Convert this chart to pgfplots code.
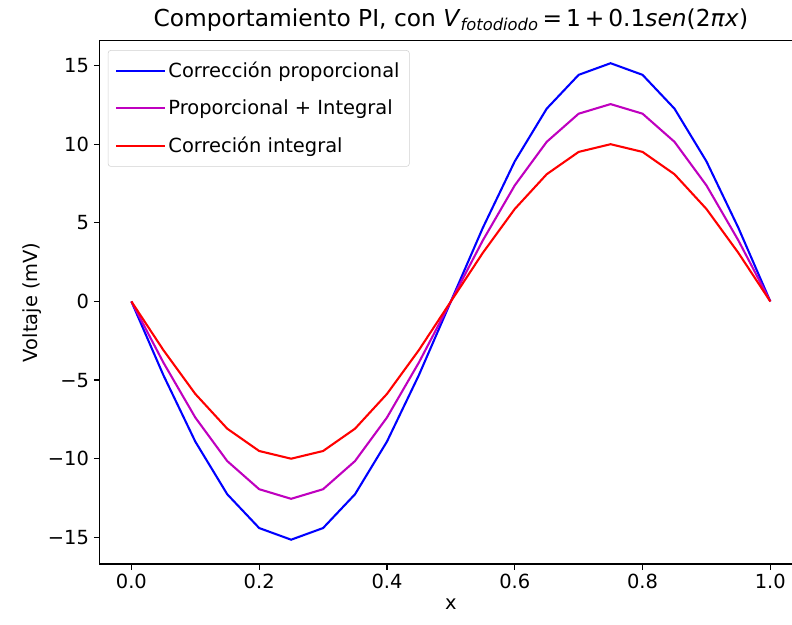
\documentclass[border=0pt]{standalone}
\usepackage{fontspec}
\setmainfont{DejaVu Sans}
\usepackage{pgfplots}
\pgfplotsset{compat=1.18}

\definecolor{mplblue}{RGB}{0,0,255}
\definecolor{mplmag}{RGB}{191,0,191}
\definecolor{mplred}{RGB}{255,0,0}

\begin{document}
\begin{tikzpicture}
\begin{axis}[
  at={(0,0)}, anchor=south west,
  scale only axis, width=506pt, height=377pt,
  xmin=-0.05, xmax=1.05, ymin=-16.7, ymax=16.6,
  xtick={0,0.2,0.4,0.6,0.8,1.0},
  xticklabels={0.0,0.2,0.4,0.6,0.8,1.0},
  ytick={-15,-10,-5,0,5,10,15},
  yticklabels={−15,−10,−5,0,5,10,15},
  tick align=outside, tick pos=left,
  major tick length=4pt,
  tick style={black, line width=0.9pt},
  axis line style={line width=0.9pt},
  tick label style={font=\fontsize{14}{16}\selectfont},
  label style={font=\fontsize{14}{16}\selectfont},
  xlabel={x}, ylabel={Voltaje (mV)},
  ylabel style={yshift=-2pt},
  title={Comportamiento PI, con \textit{V}\textsubscript{\textit{fotodiodo}}\,=\,1\,+\,0.1\textit{sen}(2\textit{π}\textit{x})},
  title style={font=\fontsize{16.8}{19}\selectfont, yshift=-3pt},
  legend style={at={(0,1)}, anchor=north west, xshift=6pt, yshift=-7pt,
    draw=black!18, rounded corners=2pt, fill=white,
    font=\fontsize{14}{16}\selectfont, row sep=10.5pt,
    inner xsep=5pt, inner ysep=6.5pt},
  legend cell align=left,
  legend image code/.code={\draw[#1] (0pt,0pt) -- (27pt,0pt); \path (0pt,0pt) -- (35pt,0pt);},
  every axis plot/.append style={line width=1.5pt},
]
\addplot[mplblue] coordinates {
(0.00,0) (0.05,-4.68) (0.10,-8.91) (0.15,-12.26) (0.20,-14.41) (0.25,-15.15)
(0.30,-14.41) (0.35,-12.26) (0.40,-8.91) (0.45,-4.68) (0.50,0)
(0.55,4.68) (0.60,8.91) (0.65,12.26) (0.70,14.41) (0.75,15.15)
(0.80,14.41) (0.85,12.26) (0.90,8.91) (0.95,4.68) (1.00,0)};
\addlegendentry{Corrección proporcional}
\addplot[mplmag] coordinates {
(0.00,0) (0.05,-3.88) (0.10,-7.38) (0.15,-10.15) (0.20,-11.94) (0.25,-12.55)
(0.30,-11.94) (0.35,-10.15) (0.40,-7.38) (0.45,-3.88) (0.50,0)
(0.55,3.88) (0.60,7.38) (0.65,10.15) (0.70,11.94) (0.75,12.55)
(0.80,11.94) (0.85,10.15) (0.90,7.38) (0.95,3.88) (1.00,0)};
\addlegendentry{Proporcional + Integral}
\addplot[mplred] coordinates {
(0.00,0) (0.05,-3.09) (0.10,-5.88) (0.15,-8.09) (0.20,-9.51) (0.25,-10.0)
(0.30,-9.51) (0.35,-8.09) (0.40,-5.88) (0.45,-3.09) (0.50,0)
(0.55,3.09) (0.60,5.88) (0.65,8.09) (0.70,9.51) (0.75,10.0)
(0.80,9.51) (0.85,8.09) (0.90,5.88) (0.95,3.09) (1.00,0)};
\addlegendentry{Correción integral}
\end{axis}
\pgfresetboundingbox
\path[use as bounding box] (-71.6pt,-43.2pt) rectangle (498.6pt,406.1pt);
\end{tikzpicture}
\end{document}
